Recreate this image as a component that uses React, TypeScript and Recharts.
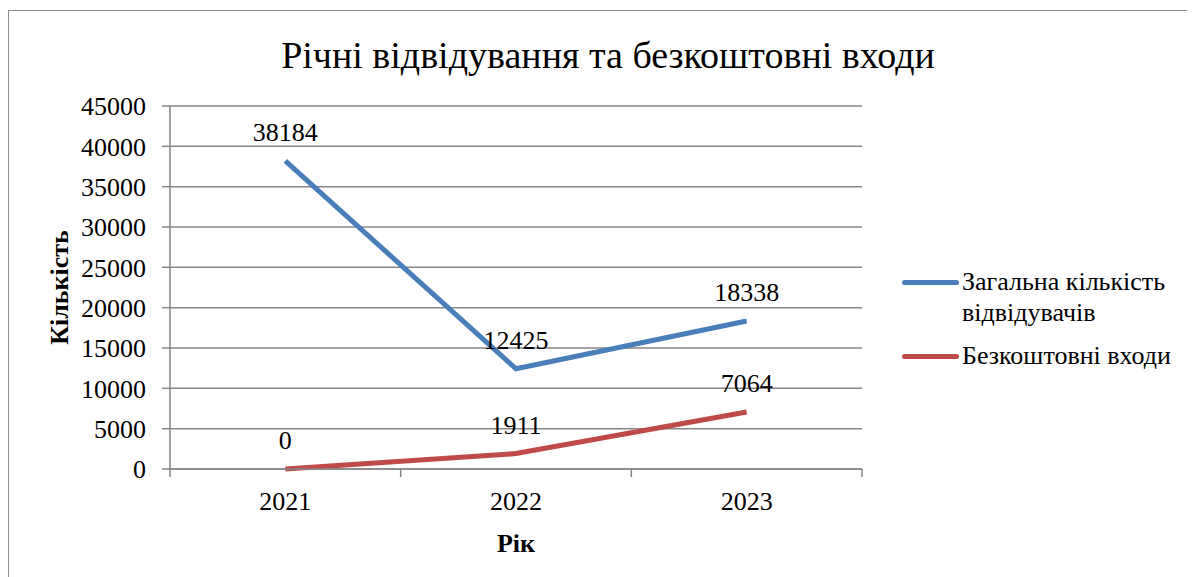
import { CartesianGrid, Label, LabelList, Line, LineChart, XAxis, YAxis } from "recharts"

const years = ["2021", "2022", "2023"]
const totalVisitors = [38184, 12425, 18338]
const freeEntries = [0, 1911, 7064]
const yTicks = [0, 5000, 10000, 15000, 20000, 25000, 30000, 35000, 40000, 45000]

const seriesNames = {
  total: "Загальна кількість відвідувачів",
  free: "Безкоштовні входи",
}

const data = years.map((year, i) => ({
  year,
  total: totalVisitors[i],
  free: freeEntries[i],
}))

const font = '"Liberation Serif", serif'
const gridColor = "#868686"

const legendItems = [
  { color: "#4a7ebb", lines: ["Загальна кількість", "відвідувачів"] },
  { color: "#be4b48", lines: [seriesNames.free] },
]

function ChartLegend() {
  return (
    <div style={{ fontFamily: font, fontSize: 26, color: "#000", lineHeight: "31px" }}>
      {legendItems.map((item) => (
        <div key={item.color} style={{ display: "flex", alignItems: "flex-start", marginBottom: 12 }}>
          <div
            style={{
              width: 57,
              height: 5,
              borderRadius: 3,
              background: item.color,
              marginTop: 14,
              marginRight: 3,
              flexShrink: 0,
            }}
          />
          <div>
            {item.lines.map((l) => (
              <div key={l}>{l}</div>
            ))}
          </div>
        </div>
      ))}
    </div>
  )
}

// category label plus tick marks on the band edges (Excel style)
function YearTick(props: any) {
  const { x, y, payload, index, visibleTicksCount } = props
  const half = payload.offset || 0
  const isLast = index === visibleTicksCount - 1
  return (
    <g>
      <line x1={x - half} x2={x - half} y1={y} y2={y + 8} stroke={gridColor} strokeWidth={1.5} />
      {isLast && <line x1={x + half} x2={x + half} y1={y} y2={y + 8} stroke={gridColor} strokeWidth={1.5} />}
      <text x={x} y={y + 23} dy="0.71em" textAnchor="middle" fill="#000" fontSize={26} fontFamily={font}>
        {payload.value}
      </text>
    </g>
  )
}

export default function App() {
  return (
    <div style={{ paddingTop: 2 }}>
      <div
        style={{
          position: "relative",
          width: 1178,
          height: 575,
          border: "1px solid #8c8c8c",
          background: "#fff",
          fontFamily: font,
        }}
      >
        <div
          style={{
            position: "absolute",
            top: 22,
            left: 0,
            width: 1198,
            textAlign: "center",
            fontSize: 38,
            lineHeight: "44px",
            color: "#000",
          }}
        >
          Річні відвідування та безкоштовні входи
        </div>
        <div style={{ position: "absolute", left: 893, top: 255 }}>
          <ChartLegend />
        </div>
        <LineChart
          width={1178}
          height={566}
          data={data}
          margin={{ top: 95, right: 325, bottom: 28, left: 0 }}
        >
          <CartesianGrid vertical={false} stroke={gridColor} strokeWidth={1.5} />
          <XAxis
            dataKey="year"
            scale="band"
            stroke={gridColor}
            strokeWidth={1.5}
            tickLine={false}
            tickSize={0}
            tickMargin={0}
            height={80}
            tick={<YearTick />}
          >
            <Label
              value="Рік"
              position="insideBottom"
              offset={-3}
              style={{ fill: "#000", fontSize: 26, fontWeight: "bold", fontFamily: font }}
            />
          </XAxis>
          <YAxis
            width={161}
            domain={[0, 45000]}
            ticks={yTicks}
            interval={0}
            tickSize={8}
            tickMargin={16}
            stroke={gridColor}
            strokeWidth={1.5}
            tick={{ fill: "#000", fontSize: 26, fontFamily: font }}
          >
            <Label
              value="Кількість"
              angle={-90}
              position="center"
              dx={-31}
              style={{ fill: "#000", fontSize: 26, fontWeight: "bold", fontFamily: font }}
            />
          </YAxis>
          <Line
            dataKey="total"
            name={seriesNames.total}
            stroke="#4a7ebb"
            strokeWidth={5}
            dot={false}
            isAnimationActive={false}
          >
            <LabelList dataKey="total" position="top" offset={20} fill="#000" fontSize={26} fontFamily={font} />
          </Line>
          <Line
            dataKey="free"
            name={seriesNames.free}
            stroke="#be4b48"
            strokeWidth={5}
            dot={false}
            isAnimationActive={false}
          >
            <LabelList dataKey="free" position="top" offset={20} fill="#000" fontSize={26} fontFamily={font} />
          </Line>
        </LineChart>
      </div>
    </div>
  )
}
